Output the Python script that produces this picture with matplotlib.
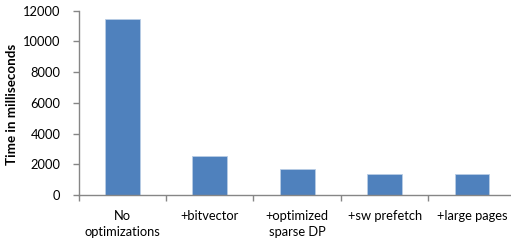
import matplotlib
matplotlib.use("Agg")
import matplotlib.pyplot as plt
from matplotlib.ticker import FixedLocator, NullFormatter
import numpy as np

categories = ["No\noptimizations", "+bitvector", "+optimized\nsparse DP", "+sw prefetch", "+large pages"]
values = [11450, 2540, 1670, 1370, 1345]
y_ticks = [0, 2000, 4000, 6000, 8000, 10000, 12000]
y_label = "Time in milliseconds"

plt.rcParams['font.family'] = ['Lato', 'DejaVu Sans']

fig = plt.figure(figsize=(5.11, 2.43), dpi=100)
ax = fig.add_axes([78.6/511, 48/243, (515.7-78.6)/511, (232.3-48)/243])

x = np.arange(len(categories))
ax.bar(x, values, width=0.4, color="#4F81BD", edgecolor="#B9CDE5", linewidth=0.6, zorder=2)

ax.set_xlim(-0.5, len(categories) - 0.5)
ax.set_ylim(0, 12000)
ax.set_yticks(y_ticks)
ax.set_yticklabels([str(t) for t in y_ticks], fontsize=9.3)

ax.xaxis.set_major_locator(FixedLocator(np.arange(-0.5, len(categories), 1.0)))
ax.xaxis.set_major_formatter(NullFormatter())
ax.xaxis.set_minor_locator(FixedLocator(x))
ax.set_xticklabels(categories, minor=True, fontsize=9.3, linespacing=1.4)
ax.tick_params(axis='x', which='major', length=4, color="#868686", width=1)
ax.tick_params(axis='x', which='minor', length=0, pad=11)
ax.tick_params(axis='y', length=4, color="#868686", width=1, pad=9)

for s in ['top', 'right']:
    ax.spines[s].set_visible(False)
for s in ['left', 'bottom']:
    ax.spines[s].set_color("#868686")
    ax.spines[s].set_linewidth(1)

ax.set_ylabel(y_label, fontsize=9.6, fontweight='bold')
ax.yaxis.set_label_coords((18 - 78.6) / 437.1, 0.49)

fig.savefig("out.png", dpi=100)
